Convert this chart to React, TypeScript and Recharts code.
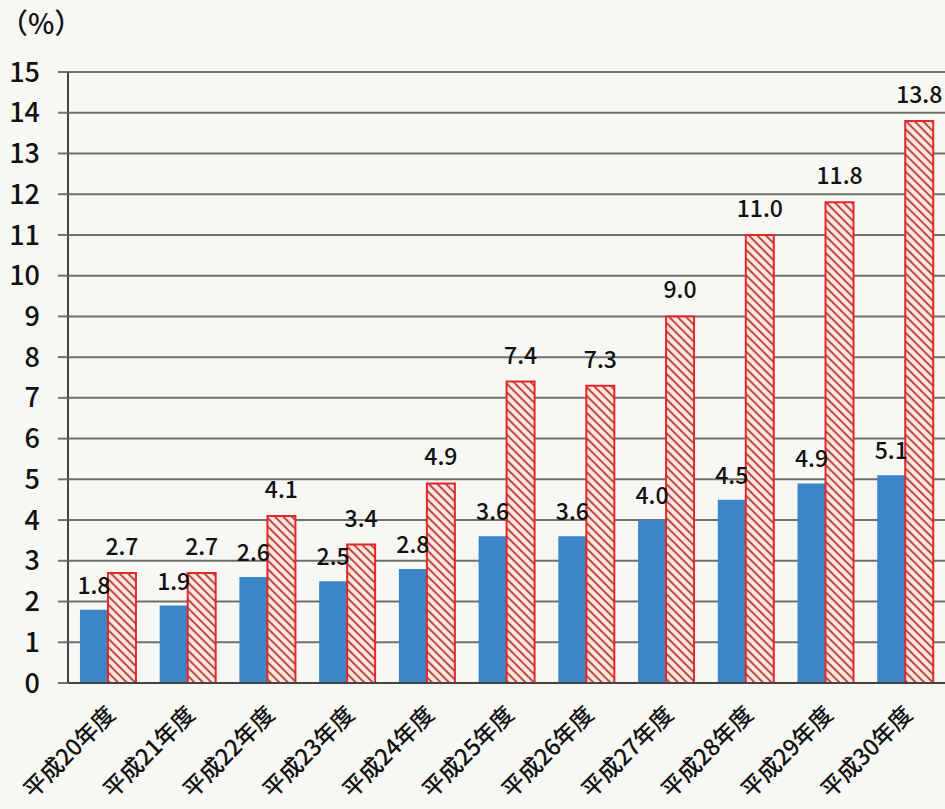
import React from 'react';
import { BarChart, Bar, XAxis, YAxis, CartesianGrid, LabelList } from 'recharts';

const years = ['平成20年度', '平成21年度', '平成22年度', '平成23年度', '平成24年度', '平成25年度', '平成26年度', '平成27年度', '平成28年度', '平成29年度', '平成30年度'];
const blueValues = [1.8, 1.9, 2.6, 2.5, 2.8, 3.6, 3.6, 4.0, 4.5, 4.9, 5.1];
const redValues = [2.7, 2.7, 4.1, 3.4, 4.9, 7.4, 7.3, 9.0, 11.0, 11.8, 13.8];
const yTicks = [0, 1, 2, 3, 4, 5, 6, 7, 8, 9, 10, 11, 12, 13, 14, 15];

const data = years.map((name, i) => ({ name, blue: blueValues[i], red: redValues[i] }));

const FONT = '"Noto Sans CJK JP", "Noto Sans", sans-serif';

const RotTick = (props: any) => {
  const { x, y, payload } = props;
  return (
    <g transform={`translate(${x + 9},${y + 25}) rotate(-45)`}>
      <text x={0} y={0} textAnchor="end" fontSize={23} fontWeight={500} fontFamily={FONT} fill="#111">
        {payload.value}
      </text>
    </g>
  );
};

const fmt = (v: any) => Number(v).toFixed(1);

export default function App() {
  return (
    <div style={{ position: 'absolute', left: 0, top: 0, width: 945, height: 809, background: '#f7f7f4' }}>
      <div style={{ position: 'absolute', left: 0, top: 2, fontSize: 28, fontWeight: 500, fontFamily: FONT, color: '#111' }}>（%）</div>
      <BarChart
        width={945}
        height={809}
        data={data}
        margin={{ top: 72, right: 0, left: 0, bottom: 0 }}
        barCategoryGap="15%"
        barGap={0}
      >
        <defs>
          <pattern id="hatch" width="6" height="6" patternUnits="userSpaceOnUse" patternTransform="rotate(45)">
            <rect width="6" height="6" fill="#fbe6de" />
            <line x1="0" y1="3" x2="6" y2="3" stroke="#c04a44" strokeWidth="2" />
          </pattern>
        </defs>
        <CartesianGrid vertical={false} stroke="#707070" strokeWidth={2} />
        <XAxis
          dataKey="name"
          interval={0}
          height={126}
          tickLine={false}
          axisLine={{ stroke: '#444', strokeWidth: 2 }}
          tick={<RotTick />}
        />
        <YAxis
          width={68}
          domain={[0, 15]}
          ticks={yTicks}
          interval={0}
          tickSize={10}
          tickMargin={18}
          tickLine={{ stroke: '#707070', strokeWidth: 2 }}
          axisLine={{ stroke: '#444', strokeWidth: 2 }}
          tick={{ fontSize: 27, fontWeight: 500, fontFamily: FONT, fill: '#111' }}
        />
        <Bar dataKey="blue" fill="#3a86c8" isAnimationActive={false}>
          <LabelList dataKey="blue" position="top" offset={16} formatter={fmt} fontSize={23} fontWeight={500} fontFamily={FONT} fill="#111" />
        </Bar>
        <Bar dataKey="red" fill="url(#hatch)" stroke="#e4282a" strokeWidth={2} isAnimationActive={false}>
          <LabelList dataKey="red" position="top" offset={18} formatter={fmt} fontSize={23} fontWeight={500} fontFamily={FONT} fill="#111" />
        </Bar>
      </BarChart>
    </div>
  );
}
